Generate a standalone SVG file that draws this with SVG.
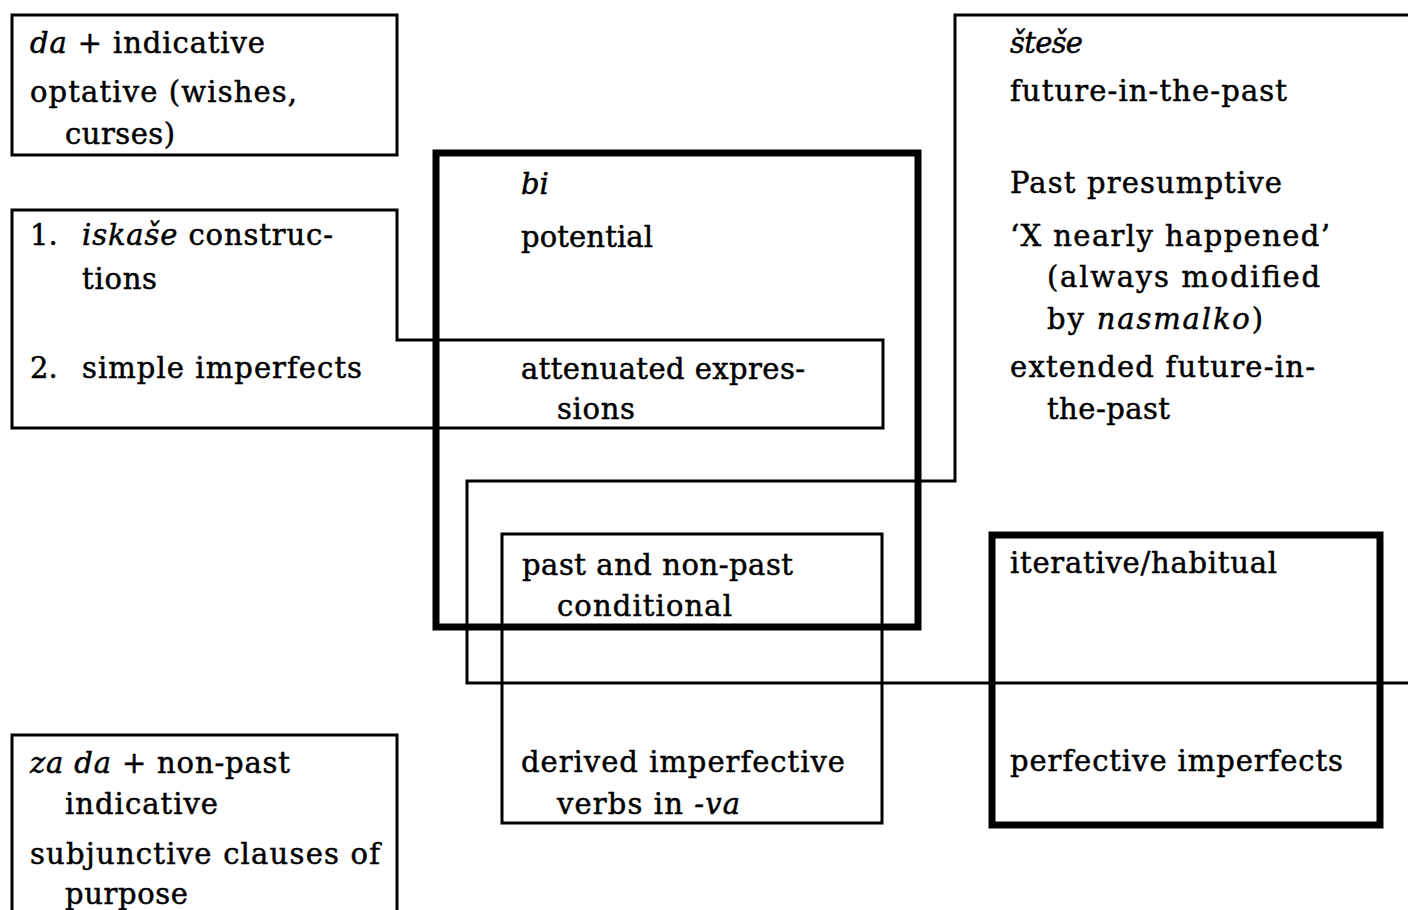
<svg xmlns="http://www.w3.org/2000/svg" width="1408" height="910" viewBox="0 0 1408 910">
  <style>
    .box { fill: none; stroke: #000; stroke-width: 3; stroke-linejoin: miter; }
    .bold { fill: none; stroke: #000; stroke-width: 7; stroke-linejoin: miter; }
    text { font-family: "DejaVu Serif", "Liberation Serif", serif; font-size: 29px; fill: #000; stroke: #000; stroke-width: 0.5; }
    .it { font-style: italic; }
  </style>
  <rect width="1408" height="910" fill="#fff"/>

  <!-- da + indicative -->
  <g id="da-indicative">
    <rect class="box" x="12" y="15" width="385" height="140"/>
    <text x="30" y="53" textLength="235" lengthAdjust="spacing"><tspan class="it">da</tspan> + indicative</text>
    <text x="30" y="102" textLength="267" lengthAdjust="spacing">optative (wishes,</text>
    <text x="65" y="144" textLength="110" lengthAdjust="spacing">curses)</text>
  </g>

  <!-- iskaše / simple imperfects -->
  <g id="imperfects">
    <path class="box" d="M12,210 H397 V340 H883 V428 H12 Z"/>
    <text x="30" y="245">1.</text>
    <text x="82" y="245" textLength="251" lengthAdjust="spacing"><tspan class="it">iskaše</tspan> construc-</text>
    <text x="82" y="289" textLength="75" lengthAdjust="spacing">tions</text>
    <text x="30" y="378">2.</text>
    <text x="82" y="378" textLength="280" lengthAdjust="spacing">simple imperfects</text>
    <text x="521" y="379" textLength="284" lengthAdjust="spacing">attenuated expres-</text>
    <text x="557" y="419" textLength="78" lengthAdjust="spacing">sions</text>
  </g>

  <!-- bi -->
  <g id="bi">
    <rect class="bold" x="436" y="153" width="482" height="474"/>
    <text x="521" y="194" class="it">bi</text>
    <text x="521" y="247" textLength="132" lengthAdjust="spacing">potential</text>
  </g>

  <!-- šteše -->
  <g id="stese">
    <path class="box" d="M1412,15 H955 V481 H467 V683 H1412"/>
    <text x="1010" y="53" class="it" textLength="73" lengthAdjust="spacing">šteše</text>
    <text x="1010" y="101" textLength="277" lengthAdjust="spacing">future-in-the-past</text>
    <text x="1010" y="193" textLength="272" lengthAdjust="spacing">Past presumptive</text>
    <text x="1010" y="246" textLength="320" lengthAdjust="spacing">‘X nearly happened’</text>
    <text x="1047" y="287" textLength="273" lengthAdjust="spacing">(always modified</text>
    <text x="1047" y="329" textLength="216" lengthAdjust="spacing">by <tspan class="it">nasmalko</tspan>)</text>
    <text x="1010" y="377" textLength="305" lengthAdjust="spacing">extended future-in-</text>
    <text x="1047" y="419" textLength="123" lengthAdjust="spacing">the-past</text>
  </g>

  <!-- conditional / derived imperfectives -->
  <g id="conditional">
    <rect class="box" x="502" y="534" width="380" height="289"/>
    <text x="522" y="575" textLength="271" lengthAdjust="spacing">past and non-past</text>
    <text x="557" y="616" textLength="175" lengthAdjust="spacing">conditional</text>
    <text x="521" y="772" textLength="324" lengthAdjust="spacing">derived imperfective</text>
    <text x="557" y="814" textLength="183" lengthAdjust="spacing">verbs in <tspan class="it">-va</tspan></text>
  </g>

  <!-- iterative / perfective imperfects -->
  <g id="iterative">
    <rect class="bold" x="992" y="535" width="388" height="290"/>
    <text x="1010" y="573" textLength="267" lengthAdjust="spacing">iterative/habitual</text>
    <text x="1010" y="771" textLength="333" lengthAdjust="spacing">perfective imperfects</text>
  </g>

  <!-- za da + non-past indicative -->
  <g id="za-da">
    <path class="box" d="M12,915 V735 H397 V915"/>
    <text x="30" y="773" textLength="260" lengthAdjust="spacing"><tspan class="it">za da</tspan> + non-past</text>
    <text x="65" y="814" textLength="153" lengthAdjust="spacing">indicative</text>
    <text x="30" y="864" textLength="350" lengthAdjust="spacing">subjunctive clauses of</text>
    <text x="65" y="904" textLength="123" lengthAdjust="spacing">purpose</text>
  </g>

  <g id="connectors"/>
</svg>
